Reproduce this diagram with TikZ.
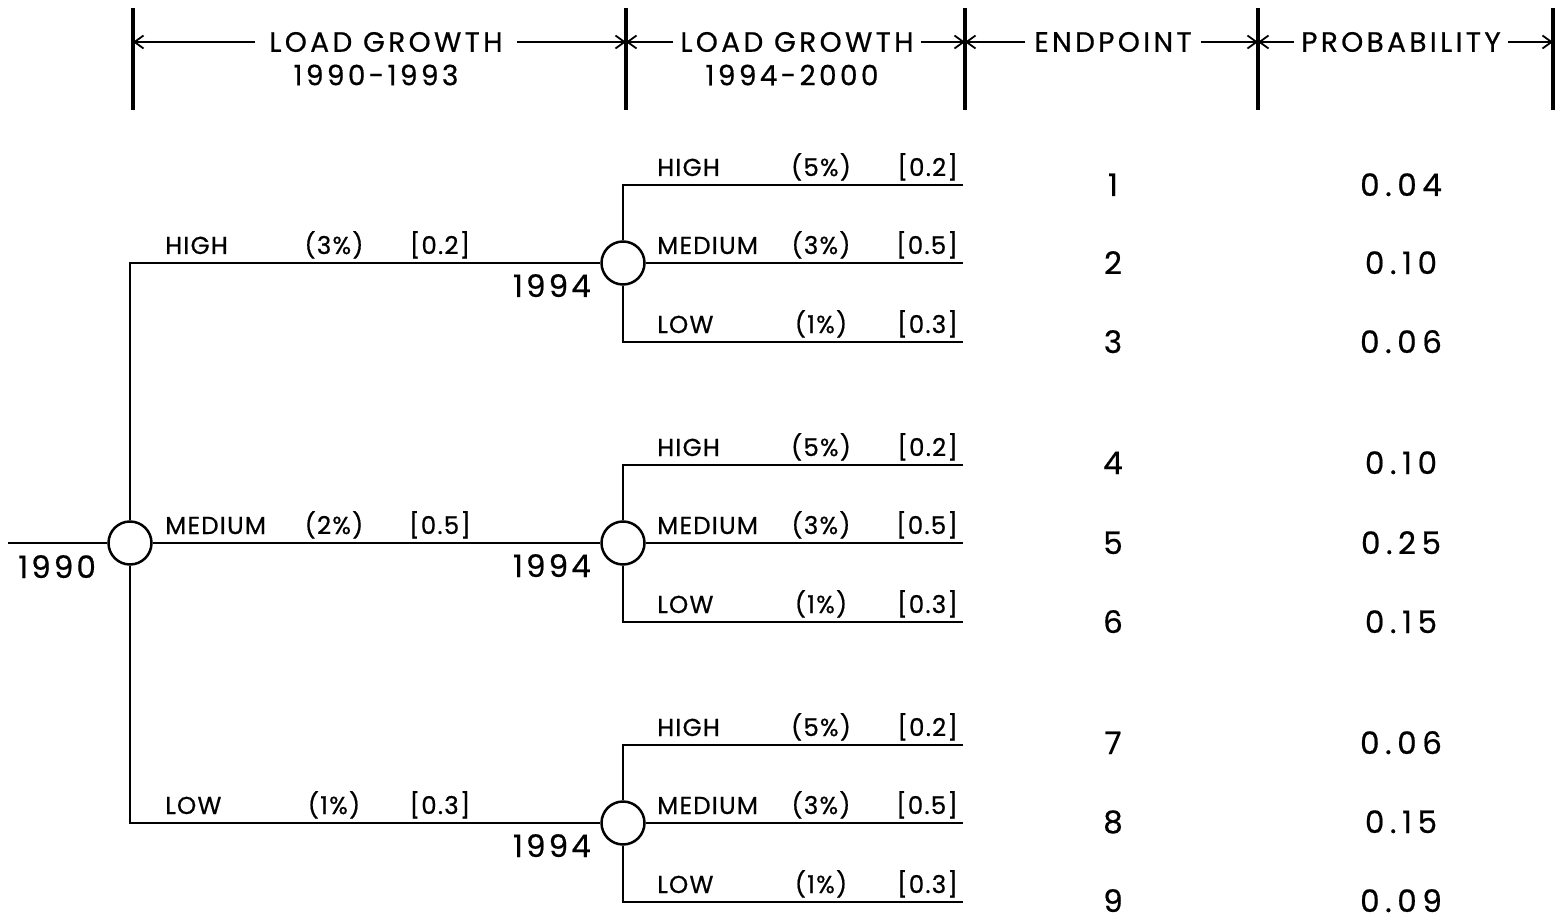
\documentclass[tikz,border=0pt]{standalone}
\usepackage{fontspec}
\setmainfont{Poppins}
\newfontfamily\hdrfont[LetterSpace=12,FakeBold=0.6]{Poppins}
\newfontfamily\labfont[LetterSpace=5,FakeBold=0.6]{Poppins}
\newfontfamily\numfont[LetterSpace=18,FakeBold=0.6]{Poppins}
\newfontfamily\yrfont[LetterSpace=10,FakeBold=0.6]{Poppins}
\usetikzlibrary{arrows.meta}
\begin{document}
\begin{tikzpicture}[x=1pt,y=-1pt,
  tree/.style={line width=2.5pt},
  bar/.style={line width=3.6pt},
  harrow/.style={line width=1.8pt,-{Straight Barb[length=9pt,width=13pt,line width=1.8pt]}},
  chance/.style={circle,draw,line width=2.5pt,minimum size=43pt,inner sep=0pt,fill=white},
  hdr/.style={font=\hdrfont\fontsize{28}{30}\selectfont,inner xsep=10pt,inner ysep=0pt},
  lab/.style={font=\labfont\fontsize{24.5}{26}\selectfont,inner sep=0pt},
  num/.style={font=\numfont\fontsize{31}{33}\selectfont,inner sep=0pt,anchor=base},
  yr/.style={font=\yrfont\fontsize{31}{33}\selectfont,inner sep=0pt},
]
\useasboundingbox (0,0) rectangle (1556,920);

% column header bars
\foreach \n/\x in {1/133,2/626,3/965,4/1258,5/1553}{
  \coordinate (b\n t) at (\x,8);
  \coordinate (b\n b) at (\x,110);
  \coordinate (b\n) at (\x,42);
  \draw[bar] (b\n t) -- (b\n b);
}

% column headers with span arrows
\node[hdr,inner xsep=14pt] (h1) at (386,42) {LOAD GROWTH};
\node[hdr,inner xsep=0pt] (h1b) at (376,75) {1990-1993};
\node[hdr,inner xsep=7pt] (h2) at (797,42) {LOAD GROWTH};
\node[hdr,inner xsep=0pt] (h2b) at (792,75) {1994-2000};
\node[hdr,inner xsep=9pt] (h3) at (1113,42) {ENDPOINT};
\node[hdr,inner xsep=7pt] (h4) at (1401,42) {PROBABILITY};
\foreach \h/\l/\r in {h1/b1/b2,h2/b2/b3,h3/b3/b4,h4/b4/b5}{
  \draw[harrow] (\h.west) -- (\l);
  \draw[harrow] (\h.east) -- (\r);
}

% decision tree: root and 1994 chance nodes
\node[chance] (root) at (130,543) {};
\node[chance] (c1) at (623,263) {};
\node[chance] (c2) at (623,543) {};
\node[chance] (c3) at (623,823) {};

\coordinate (in) at (8,543);
\coordinate (rH) at (130,263);
\coordinate (rL) at (130,823);
\draw[tree] (in) -- (root);
\draw[tree] (root) -- (rH) -- (c1);
\draw[tree] (root) -- (c2);
\draw[tree] (root) -- (rL) -- (c3);

\node[yr,anchor=base west] (y0) at (18,578) {1990};

% first-period branch labels
\foreach \y/\a/\p/\q in {263/HIGH/(3\%)/[0.2],543/MEDIUM/(2\%)/[0.5],823/LOW/(1\%)/[0.3]}{
  \node[lab,anchor=base west] at (165,\y-9) {\a};
  \node[lab,anchor=base] at (334,\y-9) {\p};
  \node[lab,anchor=base] at (440,\y-9) {\q};
}

% second-period branches
\foreach \c/\y in {c1/263,c2/543,c3/823}{
  \node[yr,anchor=base east] at (591,\y+34) {1994};
  \coordinate (\c H) at (623,\y-78);
  \coordinate (\c L) at (623,\y+79);
  \coordinate (\c He) at (963,\y-78);
  \coordinate (\c Me) at (963,\y);
  \coordinate (\c Le) at (963,\y+79);
  \draw[tree] (\c) -- (\c H) -- (\c He);
  \draw[tree] (\c) -- (\c Me);
  \draw[tree] (\c) -- (\c L) -- (\c Le);
  \foreach \d/\a/\p/\q in {-78/HIGH/(5\%)/[0.2],0/MEDIUM/(3\%)/[0.5],79/LOW/(1\%)/[0.3]}{
    \node[lab,anchor=base west] at (657,\y+\d-9) {\a};
    \node[lab,anchor=base] at (821,\y+\d-9) {\p};
    \node[lab,anchor=base east] at (958,\y+\d-9) {\q};
  }
}

% endpoint numbers and probabilities
\foreach \k/\y/\pr in {1/185/0.04,2/263/0.10,3/342/0.06,4/463/0.10,5/543/0.25,6/622/0.15,7/743/0.06,8/822/0.15,9/901/0.09}{
  \node[num] (e\k) at (1113,\y+11) {\k};
  \node[num] (p\k) at (1401,\y+11) {\pr};
}
\end{tikzpicture}
\end{document}
